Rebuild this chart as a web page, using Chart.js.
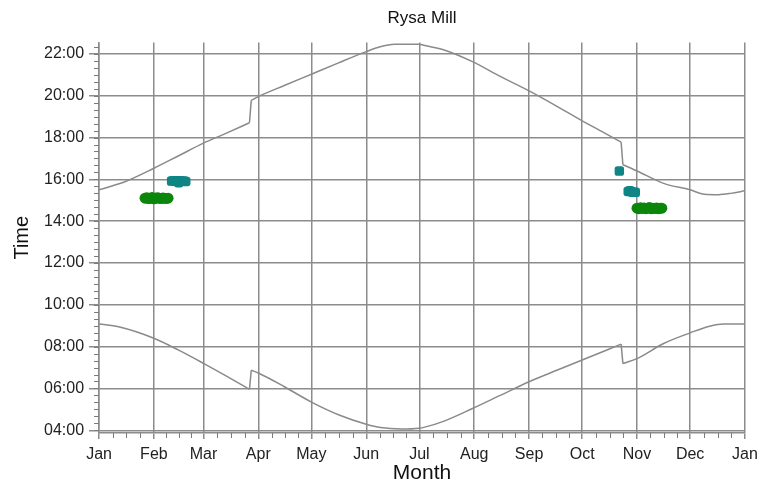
<!DOCTYPE html>
<html>
<head>
<meta charset="utf-8">
<title>Rysa Mill</title>
<script src="https://cdn.jsdelivr.net/npm/chart.js@4/dist/chart.umd.min.js"></script>
<style>
  body { margin: 0; background: #fff; }
  #wrap { width: 759px; height: 486px; }
</style>
</head>
<body>
<div id="wrap"><canvas id="canvas"></canvas></div>
<script>
// Ось X: дни года, подписи месяцев
const monthLabels = ['Jan', 'Feb', 'Mar', 'Apr', 'May', 'Jun', 'Jul', 'Aug', 'Sep', 'Oct', 'Nov', 'Dec', 'Jan'];
const monthStartDays = [0, 31, 59, 90, 120, 151, 181, 212, 243, 273, 304, 334, 365];

// Ось Y: часы
const hourTicks = [4, 6, 8, 10, 12, 14, 16, 18, 20, 22];
const hourLabels = ['04:00', '06:00', '08:00', '10:00', '12:00', '14:00', '16:00', '18:00', '20:00', '22:00'];

// Закат (день года, час)
const sunsetDays  = [0, 15, 31, 45, 59, 72, 85, 86, 90, 105, 120, 135, 151, 158, 167, 181, 184, 195, 211, 227, 243, 259, 273, 285, 295, 296, 304, 319, 334, 342, 350, 357, 365];
const sunsetHours = [15.5, 15.9, 16.53, 17.13, 17.73, 18.21, 18.71, 19.78, 19.96, 20.5, 21.03, 21.56, 22.11, 22.32, 22.46, 22.46, 22.4, 22.19, 21.63, 20.91, 20.23, 19.48, 18.8, 18.25, 17.78, 16.7, 16.4, 15.81, 15.5, 15.29, 15.27, 15.33, 15.45];

// Восход (день года, час)
const sunriseDays  = [0, 11, 31, 45, 59, 72, 85, 86, 90, 105, 120, 136, 151, 159, 171, 181, 184, 195, 211, 227, 243, 259, 273, 295, 296, 304, 319, 334, 345, 353, 365];
const sunriseHours = [9.08, 8.95, 8.4, 7.83, 7.2, 6.59, 5.96, 6.87, 6.74, 6.07, 5.35, 4.72, 4.29, 4.13, 4.06, 4.1, 4.15, 4.44, 5.04, 5.68, 6.32, 6.88, 7.36, 8.12, 7.19, 7.43, 8.15, 8.66, 8.98, 9.08, 9.08];

// Наблюдения (зелёные)
const greenDays  = [26, 27, 28, 29, 30, 31, 32, 33, 34, 35, 36, 37, 38, 39, 304, 305, 306, 307, 308, 309, 310, 311, 312, 313, 314, 315, 316, 317, 318];
const greenHours = [15.1, 15.12, 15.08, 15.1, 15.13, 15.07, 15.1, 15.12, 15.1, 15.08, 15.11, 15.1, 15.09, 15.1, 14.62, 14.6, 14.64, 14.61, 14.63, 14.6, 14.62, 14.65, 14.6, 14.62, 14.61, 14.63, 14.6, 14.62, 14.62];

// Наблюдения (бирюзовые)
const tealDays  = [41, 42, 43, 44, 45, 45, 46, 47, 48, 49, 294, 299, 300, 301, 302, 303];
const tealHours = [15.92, 15.93, 15.91, 15.92, 15.93, 15.84, 15.92, 15.91, 15.92, 15.9, 16.4, 15.42, 15.46, 15.4, 15.38, 15.38];

function toPoints(xs, ys) {
    return xs.map((x, i) => ({ x: x, y: ys[i] }));
}

const lineColor = '#8a8a8a';
const gridColor = '#8c8c8c';

// Кривая разбивается на гладкие участки и прямые скачки (перевод часов)
function curveDatasets(label, xs, ys) {
    const pts = toPoints(xs, ys);
    const sets = [];
    let start = 0;
    for (let i = 1; i <= pts.length; i++) {
        if (i === pts.length || xs[i] - xs[i - 1] <= 1) {
            sets.push({
                label: label,
                data: pts.slice(start, i),
                showLine: true,
                borderColor: lineColor,
                borderWidth: 1.5,
                pointRadius: 0,
                cubicInterpolationMode: 'monotone'
            });
            if (i < pts.length) {
                sets.push({
                    label: label,
                    data: [pts[i - 1], pts[i]],
                    showLine: true,
                    borderColor: lineColor,
                    borderWidth: 1.5,
                    pointRadius: 0
                });
            }
            start = i;
        }
    }
    return sets;
}

// Заголовок по центру области графика
const centerTitle = {
    id: 'centerTitle',
    afterLayout(chart) {
        const t = chart.titleBlock;
        if (t) {
            t.left = chart.chartArea.left;
            t.right = chart.chartArea.right;
            t.width = t.right - t.left;
        }
    }
};

// Мелкие засечки на осях
const minorTicks = {
    id: 'minorTicks',
    afterDraw(chart) {
        const { ctx, scales: { x, y } } = chart;
        ctx.save();
        ctx.strokeStyle = '#7a7a7a';
        ctx.lineWidth = 1;
        ctx.beginPath();
        const left = x.left;
        for (let h = 4; h <= 22.5; h += 1 / 3) {
            const py = Math.round(y.getPixelForValue(h)) + 0.5;
            ctx.moveTo(left - 5, py);
            ctx.lineTo(left, py);
        }
        const bottom = y.bottom;
        for (let i = 0; i < monthStartDays.length - 1; i++) {
            const a = monthStartDays[i], b = monthStartDays[i + 1];
            for (let k = 1; k < 4; k++) {
                const px = Math.round(x.getPixelForValue(a + (b - a) * k / 4)) + 0.5;
                ctx.moveTo(px, bottom);
                ctx.lineTo(px, bottom + 5);
            }
        }
        ctx.stroke();
        ctx.restore();
    }
};

Chart.defaults.font.family = "'Liberation Sans', Arial, sans-serif";
Chart.defaults.color = '#222';

const ctx = document.getElementById('canvas').getContext('2d');
new Chart(ctx, {
    type: 'scatter',
    data: {
        datasets: [
            ...curveDatasets('Sunset', sunsetDays, sunsetHours),
            ...curveDatasets('Sunrise', sunriseDays, sunriseHours),
            {
                label: 'Green',
                data: toPoints(greenDays, greenHours),
                backgroundColor: '#0b860b',
                borderColor: '#0b860b',
                pointRadius: 5.5,
                borderWidth: 0
            },
            {
                label: 'Teal',
                data: toPoints(tealDays, tealHours),
                backgroundColor: '#0f8585',
                borderColor: '#0f8585',
                pointStyle: 'rectRounded',
                pointRadius: 5.5,
                borderWidth: 0
            }
        ]
    },
    options: {
        responsive: true,
        maintainAspectRatio: false,
        animation: false,
        layout: { padding: { left: 10, right: 4, top: 0, bottom: 2 } },
        plugins: {
            legend: { display: false },
            tooltip: { enabled: false },
            title: {
                display: true,
                text: 'Rysa Mill',
                color: '#111',
                font: { size: 17, weight: 'normal' },
                padding: { top: 8, bottom: 14 }
            }
        },
        scales: {
            x: {
                type: 'linear',
                min: 0,
                max: 365,
                afterBuildTicks: scale => { scale.ticks = monthStartDays.map(v => ({ value: v })); },
                afterFit: scale => { scale.paddingRight = 14; },
                ticks: {
                    font: { size: 16, lineHeight: 1 },
                    padding: 8,
                    autoSkip: false,
                    maxRotation: 0,
                    callback: (v, i) => monthLabels[i]
                },
                grid: { color: gridColor, lineWidth: 1.5, tickLength: 6 },
                border: { color: gridColor, width: 1.5 },
                title: {
                    display: true,
                    text: 'Month',
                    color: '#111',
                    font: { size: 21, lineHeight: 1 },
                    padding: { top: -8, bottom: 0 }
                }
            },
            y: {
                type: 'linear',
                min: 3.87,
                max: 22.55,
                afterBuildTicks: scale => { scale.ticks = hourTicks.map(v => ({ value: v })); },
                ticks: {
                    font: { size: 16 },
                    padding: 5,
                    callback: (v, i) => hourLabels[i]
                },
                grid: { color: gridColor, lineWidth: 1.5, tickLength: 10 },
                border: { color: gridColor, width: 1.5 },
                title: {
                    display: true,
                    text: 'Time',
                    color: '#111',
                    font: { size: 20 },
                    padding: { top: 0, bottom: 5 }
                }
            }
        }
    },
    plugins: [centerTitle, minorTicks]
});
</script>
</body>
</html>
